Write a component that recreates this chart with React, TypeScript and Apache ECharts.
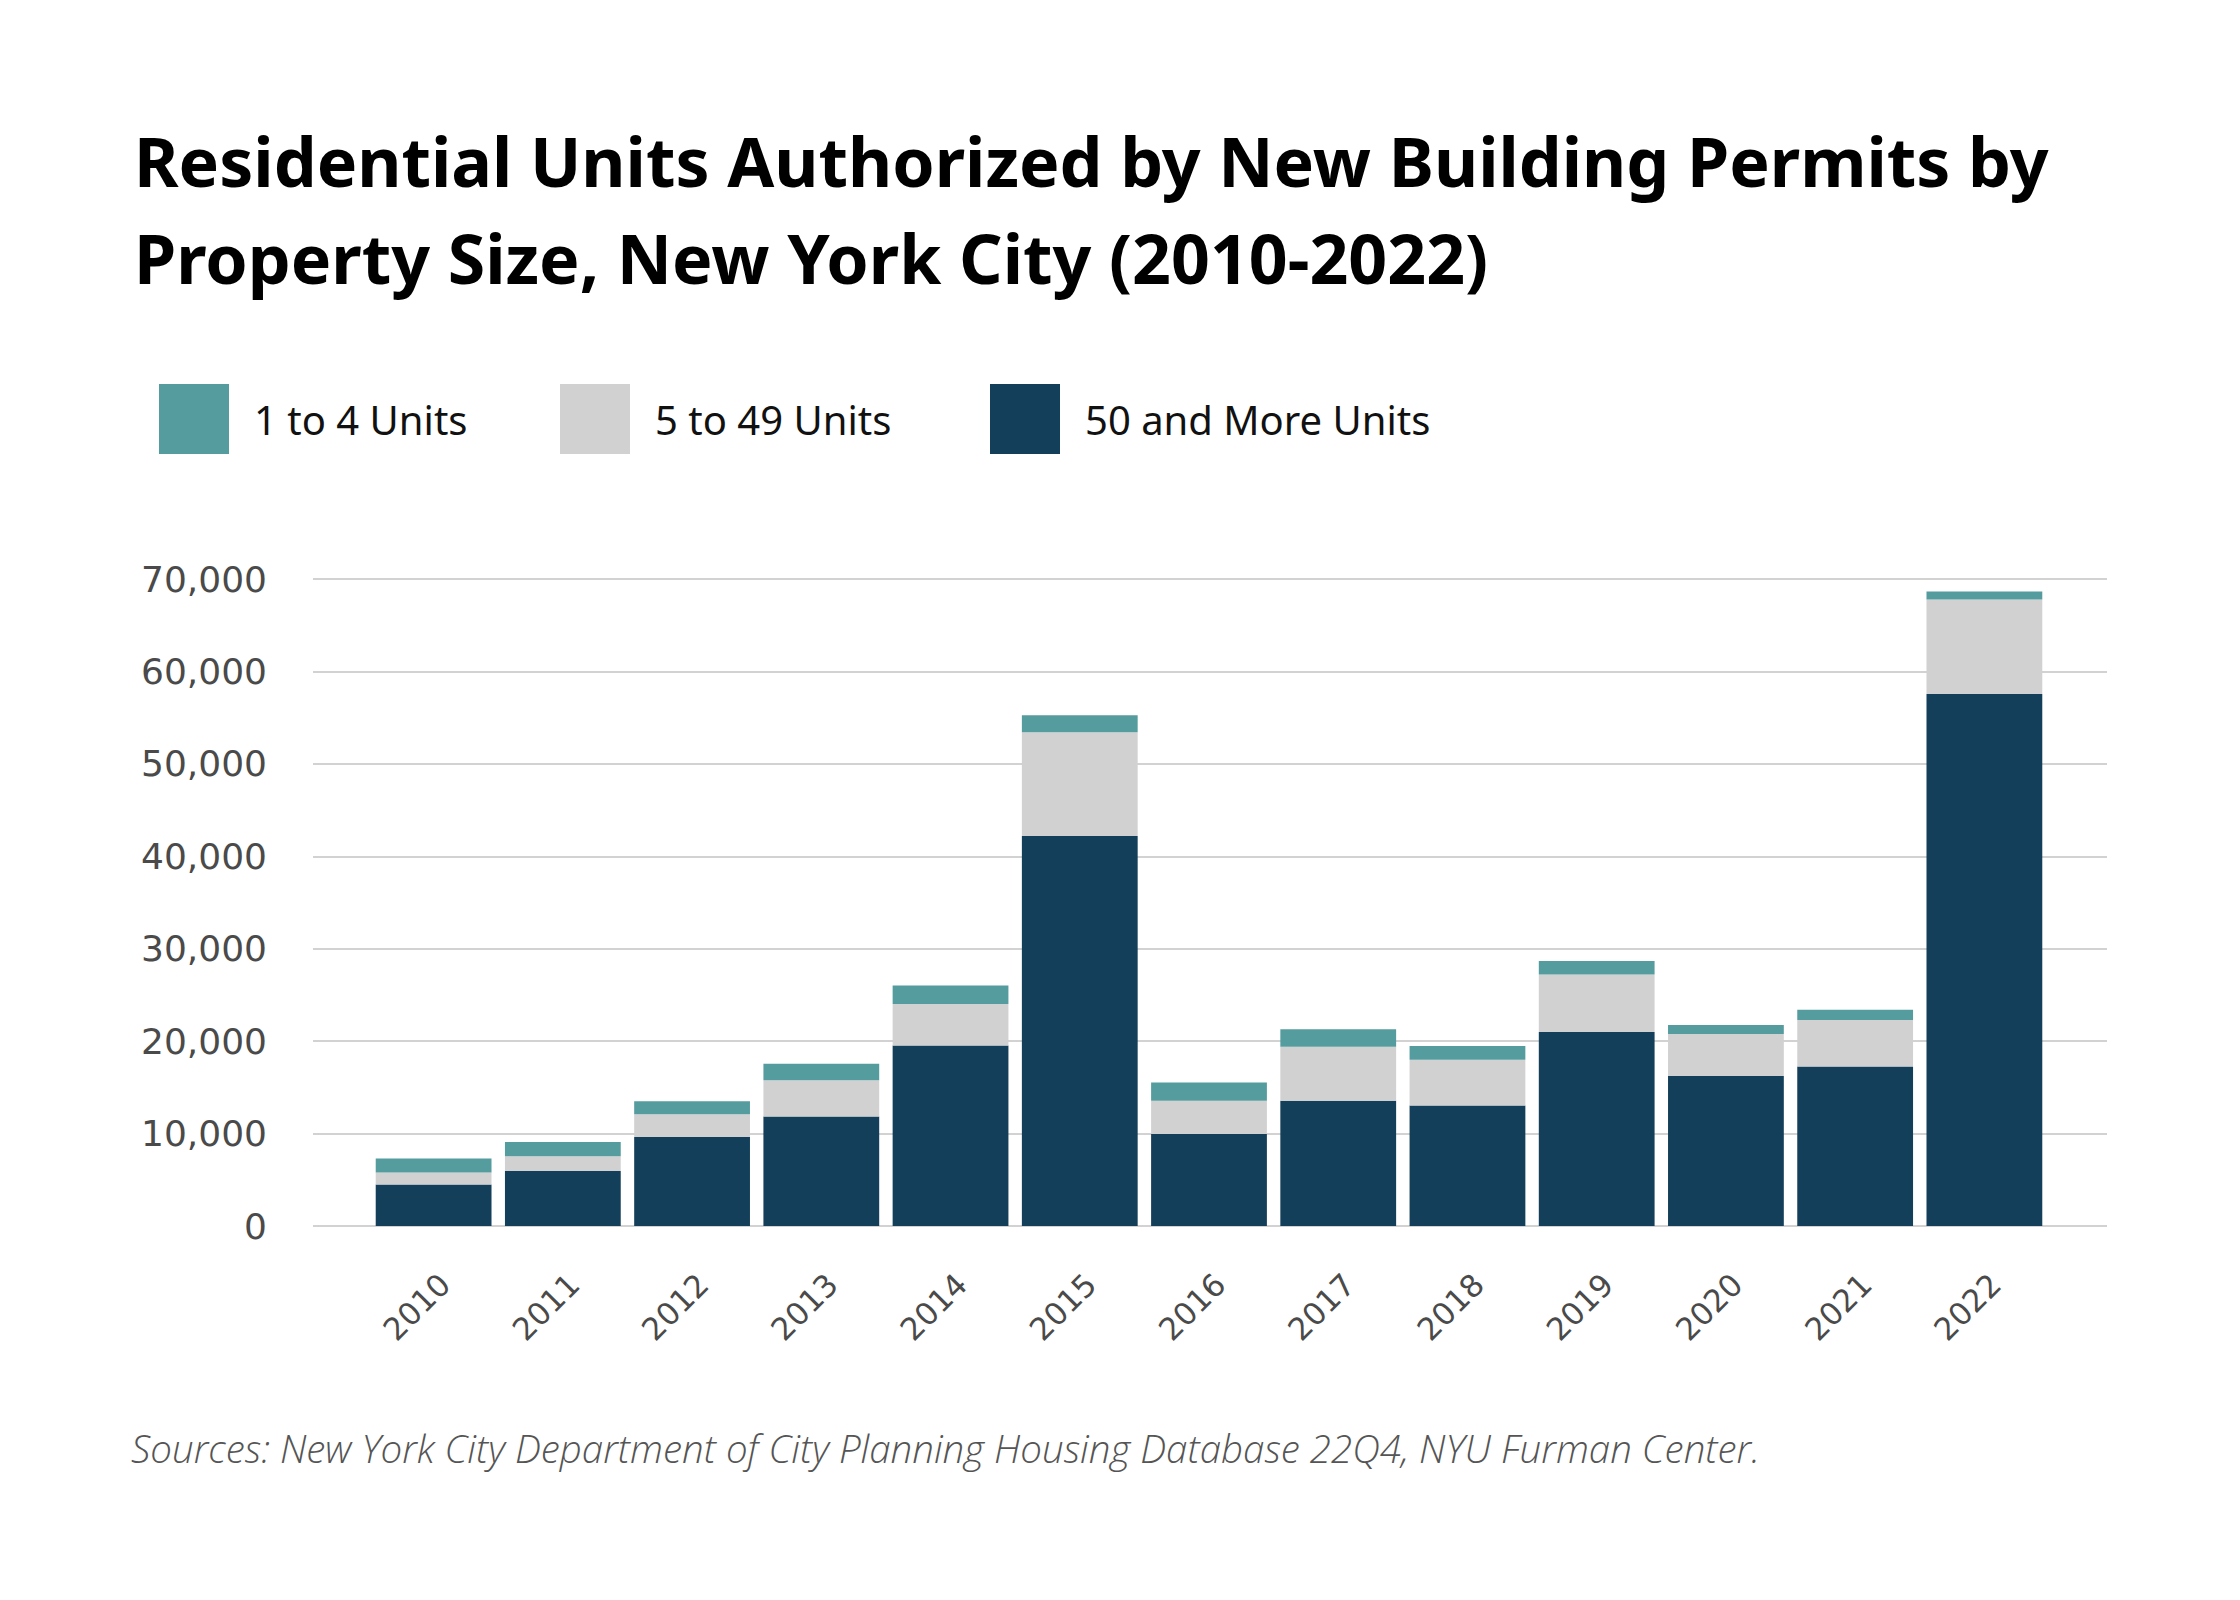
import React, { useEffect, useRef } from "react";
import * as echarts from "echarts";

const years = ["2010", "2011", "2012", "2013", "2014", "2015", "2016", "2017", "2018", "2019", "2020", "2021", "2022"];
const units50Plus = [4500, 5950, 9620, 11850, 19530, 42200, 9960, 13540, 13050, 20980, 16240, 17260, 57570];
const units5to49 = [1300, 1600, 2470, 3910, 4500, 11210, 3580, 5850, 4930, 6240, 4540, 5030, 10200];
const units1to4 = [1500, 1550, 1400, 1790, 1980, 1840, 1980, 1890, 1500, 1450, 970, 1110, 870];
const yTicks = [0, 10000, 20000, 30000, 40000, 50000, 60000, 70000];

const TEAL = "#559c9e";
const GREY = "#d1d1d1";
const NAVY = "#133f5a";

export default function App() {
  const ref = useRef<HTMLDivElement>(null);
  useEffect(() => {
    if (!ref.current) return;
    const chart = echarts.init(ref.current, null, { renderer: "svg" });
    const legendText = { fontFamily: "Noto Sans", fontSize: 40, color: "#111", padding: [0, 0, 0, 20] };
    const mkLegend = (name: string, left: number) => ({
      data: [name],
      left,
      top: 384,
      padding: 0,
      orient: "horizontal",
      itemWidth: 70,
      itemHeight: 70,
      icon: "rect",
      selectedMode: false,
      textStyle: legendText,
    });
    chart.setOption({
      animation: false,
      backgroundColor: "#ffffff",
      title: [
        {
          text: "Residential Units Authorized by New Building Permits by\nProperty Size, New York City (2010-2022)",
          left: 134,
          top: 112,
          padding: 0,
          textStyle: {
            fontFamily: "Noto Sans",
            fontWeight: 700,
            fontSize: 68,
            lineHeight: 97,
            color: "#000",
          },
        },
        {
          text: "Sources: New York City Department of City Planning Housing Database 22Q4, NYU Furman Center.",
          left: 131,
          top: 1428,
          padding: 0,
          textStyle: {
            fontFamily: "Open Sans",
            fontStyle: "italic",
            fontWeight: 300,
            fontSize: 38.5,
            color: "#555",
          },
        },
      ],
      legend: [
        mkLegend("1 to 4 Units", 159),
        mkLegend("5 to 49 Units", 560),
        mkLegend("50 and More Units", 990),
      ],
      grid: [
        { left: 313, right: 133, top: 579, bottom: 374 },
        { left: 369, right: 191, top: 579, bottom: 374 },
      ],
      xAxis: [
        { type: "value", gridIndex: 0, show: false, min: 0, max: 1 },
        {
          type: "category",
          gridIndex: 1,
          data: years,
          boundaryGap: true,
          axisLine: { show: false },
          axisTick: { show: false },
          axisLabel: {
            interval: 0,
            rotate: 45,
            margin: 42,
            verticalAlign: "top",
            fontFamily: "DejaVu Sans",
            fontSize: 31,
            color: "#4a4a4a",
          },
        },
      ],
      yAxis: [
        {
          type: "value",
          gridIndex: 0,
          min: 0,
          max: 70000,
          interval: 10000,
          axisLine: { show: false },
          axisTick: { show: false },
          splitLine: { lineStyle: { color: "#d2d2d2", width: 2 } },
          axisLabel: {
            margin: 46,
            fontFamily: "DejaVu Sans",
            fontSize: 36,
            color: "#4a4a4a",
            formatter: (v: number) => (yTicks.includes(v) ? v.toLocaleString("en-US") : ""),
          },
        },
        { type: "value", gridIndex: 1, min: 0, max: 70000, show: false },
      ],
      series: [
        {
          name: "50 and More Units",
          type: "bar",
          stack: "total",
          xAxisIndex: 1,
          yAxisIndex: 1,
          data: units50Plus,
          barCategoryGap: "10.4%",
          itemStyle: { color: NAVY },
        },
        {
          name: "5 to 49 Units",
          type: "bar",
          stack: "total",
          xAxisIndex: 1,
          yAxisIndex: 1,
          data: units5to49,
          barCategoryGap: "10.4%",
          itemStyle: { color: GREY },
        },
        {
          name: "1 to 4 Units",
          type: "bar",
          stack: "total",
          xAxisIndex: 1,
          yAxisIndex: 1,
          data: units1to4,
          barCategoryGap: "10.4%",
          itemStyle: { color: TEAL },
        },
      ],
    });
    return () => chart.dispose();
  }, []);
  return (
    <div
      ref={ref}
      style={{ position: "absolute", left: 0, top: 0, width: 2240, height: 1600 }}
    />
  );
}
